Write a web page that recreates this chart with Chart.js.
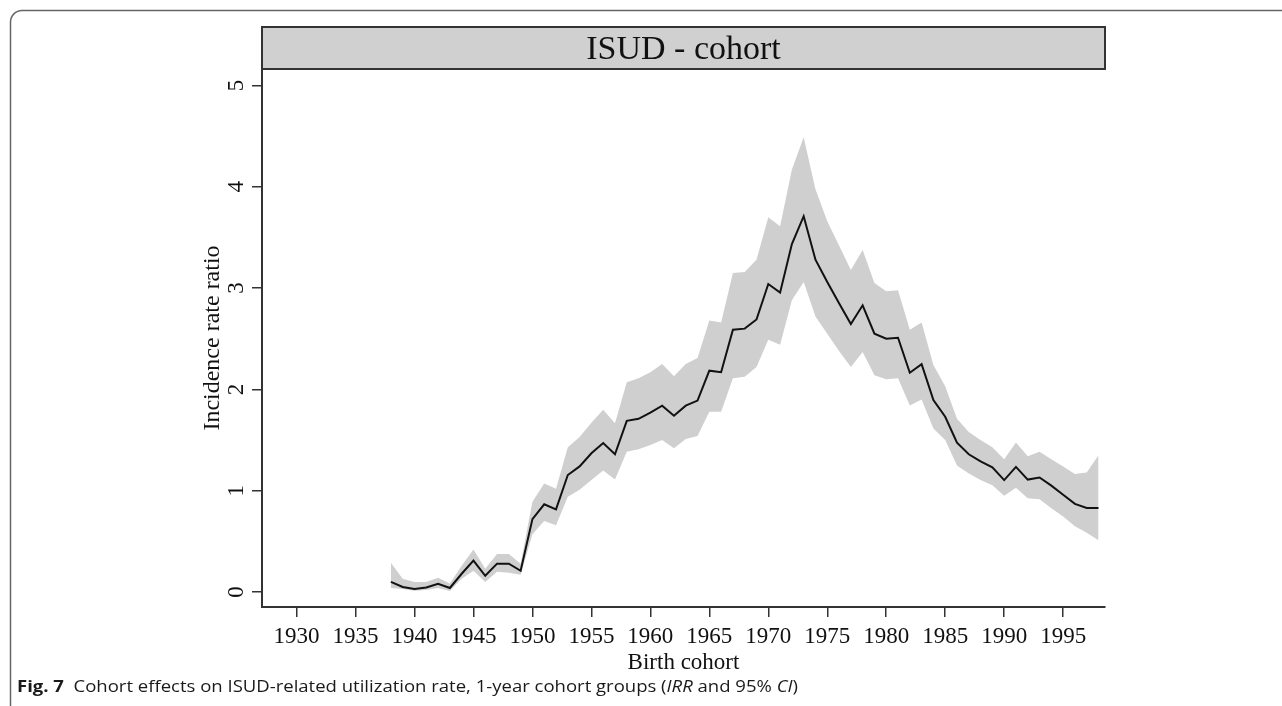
<!DOCTYPE html>
<html>
<head>
<meta charset="utf-8">
<script src="https://cdn.jsdelivr.net/npm/chart.js@4.4.1/dist/chart.umd.min.js"></script>
<style>
  html, body { margin: 0; padding: 0; background: #fff; }
  #wrap { position: relative; width: 1282px; height: 706px; overflow: hidden; }
  canvas { position: absolute; left: 0; top: 0; }
  #caption { position: absolute; left: 17px; top: 678px; font-family: "Open Sans", "Noto Sans", sans-serif; font-size: 16px; line-height: 16px; color: #1a1a1a; white-space: nowrap; transform-origin: 0 0; }
  #caption b { font-weight: 700; }
</style>
</head>
<body>
<div id="wrap">
  <canvas id="c" width="1282" height="706"></canvas>
  <div id="caption"><b>Fig. 7</b>&nbsp; Cohort effects on ISUD-related utilization rate, 1-year cohort groups (<i>IRR</i> and 95% <i>CI</i>)</div>
</div>
<script>
// ---- data ----
const years = [1938,1939,1940,1941,1942,1943,1944,1945,1946,1947,1948,1949,1950,1951,1952,1953,1954,1955,1956,1957,1958,1959,1960,1961,1962,1963,1964,1965,1966,1967,1968,1969,1970,1971,1972,1973,1974,1975,1976,1977,1978,1979,1980,1981,1982,1983,1984,1985,1986,1987,1988,1989,1990,1991,1992,1993,1994,1995,1996,1997,1998];
const irr = [0.10,0.05,0.03,0.045,0.08,0.04,0.18,0.31,0.16,0.28,0.28,0.21,0.72,0.866,0.816,1.155,1.24,1.37,1.47,1.36,1.69,1.71,1.77,1.84,1.74,1.84,1.89,2.185,2.17,2.59,2.60,2.69,3.04,2.955,3.435,3.71,3.28,3.06,2.85,2.645,2.83,2.55,2.50,2.51,2.165,2.25,1.895,1.73,1.475,1.36,1.29,1.23,1.105,1.235,1.11,1.13,1.05,0.96,0.87,0.83,0.83];
const ciUpper = [0.29,0.13,0.10,0.10,0.14,0.085,0.26,0.42,0.23,0.375,0.375,0.28,0.89,1.07,1.02,1.43,1.53,1.67,1.80,1.665,2.07,2.11,2.17,2.25,2.13,2.25,2.31,2.68,2.66,3.15,3.16,3.28,3.70,3.61,4.17,4.49,3.975,3.66,3.42,3.18,3.375,3.05,2.97,2.98,2.59,2.66,2.24,2.03,1.71,1.58,1.50,1.43,1.31,1.475,1.34,1.385,1.31,1.24,1.165,1.18,1.35];
const ciLower = [0.04,0.03,0.013,0.02,0.04,0.01,0.13,0.21,0.10,0.20,0.19,0.17,0.57,0.70,0.66,0.94,1.01,1.105,1.20,1.11,1.385,1.41,1.45,1.50,1.42,1.51,1.54,1.78,1.78,2.11,2.125,2.22,2.49,2.44,2.88,3.06,2.72,2.55,2.38,2.22,2.37,2.14,2.10,2.11,1.84,1.90,1.615,1.50,1.25,1.17,1.105,1.055,0.95,1.03,0.925,0.915,0.826,0.745,0.65,0.585,0.51];
const xTicks = [1930,1935,1940,1945,1950,1955,1960,1965,1970,1975,1980,1985,1990,1995];
const yTicks = [0,1,2,3,4,5];
const panelTitle = "ISUD - cohort";
const xTitle = "Birth cohort";
const yTitle = "Incidence rate ratio";

const toPts = arr => years.map((y, i) => ({x: y, y: arr[i]}));
const SERIF = '"Liberation Serif", "Times New Roman", serif';
const AXIS = '#333333';

const decor = {
  id: 'decor',
  beforeDraw(chart) {
    const ctx = chart.ctx;
    ctx.save();
    ctx.fillStyle = '#ffffff';
    ctx.fillRect(0, 0, chart.width, chart.height);
    // outer rounded frame (extends beyond right/bottom edges)
    ctx.strokeStyle = '#666666';
    ctx.lineWidth = 1.5;
    ctx.beginPath();
    ctx.moveTo(10.5, chart.height + 5);
    ctx.lineTo(10.5, 22);
    ctx.arcTo(10.5, 10.5, 22, 10.5, 11.5);
    ctx.lineTo(chart.width + 5, 10.5);
    ctx.stroke();
    ctx.restore();
  },
  afterDraw(chart) {
    const ctx = chart.ctx;
    const a = chart.chartArea;
    const ys = chart.scales.y;
    ctx.save();
    // header strip
    ctx.fillStyle = '#d0d0d0';
    ctx.fillRect(a.left, 27, a.right - a.left, a.top - 27);
    ctx.strokeStyle = AXIS;
    ctx.lineWidth = 2;
    ctx.strokeRect(a.left, 27, a.right - a.left, a.top - 27);
    ctx.fillStyle = '#111111';
    ctx.font = '34px ' + SERIF;
    ctx.textAlign = 'center';
    ctx.textBaseline = 'alphabetic';
    ctx.fillText(panelTitle, (a.left + a.right) / 2, 59);
    // rotated y tick labels
    ctx.font = '23px ' + SERIF;
    ys.ticks.forEach(t => {
      const py = ys.getPixelForValue(t.value);
      ctx.save();
      ctx.translate(243, py);
      ctx.rotate(-Math.PI / 2);
      ctx.textAlign = 'center';
      ctx.fillText(String(t.value), 0, 0);
      ctx.restore();
    });
    // y title
    ctx.font = '24px ' + SERIF;
    ctx.save();
    ctx.translate(219, (a.top + a.bottom) / 2);
    ctx.rotate(-Math.PI / 2);
    ctx.textAlign = 'center';
    ctx.fillText(yTitle, 0, 0);
    ctx.restore();
    // x title
    ctx.font = '23px ' + SERIF;
    ctx.textAlign = 'center';
    ctx.fillText(xTitle, (a.left + a.right) / 2, 669);
    ctx.restore();
  }
};

new Chart(document.getElementById('c'), {
  type: 'line',
  data: {
    datasets: [
      { label: 'IRR', data: toPts(irr), borderColor: '#111111', borderWidth: 2, pointRadius: 0, fill: false, tension: 0 },
      { label: 'Upper 95% CI', data: toPts(ciUpper), borderWidth: 0, borderColor: 'rgba(0,0,0,0)', backgroundColor: '#cfcfcf', pointRadius: 0, fill: '+1', tension: 0 },
      { label: 'Lower 95% CI', data: toPts(ciLower), borderWidth: 0, borderColor: 'rgba(0,0,0,0)', backgroundColor: '#cfcfcf', pointRadius: 0, fill: false, tension: 0 }
    ]
  },
  options: {
    responsive: false,
    animation: false,
    devicePixelRatio: 1,
    layout: { padding: { top: 69, right: 177, bottom: 0, left: 0 } },
    plugins: { legend: { display: false }, tooltip: { enabled: false } },
    scales: {
      x: {
        type: 'linear',
        min: 1927.07,
        max: 1998.55,
        afterBuildTicks: s => { s.ticks = xTicks.map(v => ({ value: v })); },
        afterFit: s => { s.height = 99; },
        ticks: { autoSkip: false, maxRotation: 0, minRotation: 0, padding: 6, color: '#111111', font: { family: SERIF, size: 23 }, callback: v => String(v) },
        grid: { display: true, drawOnChartArea: false, drawTicks: true, tickLength: 10, color: AXIS, lineWidth: 1.5 },
        border: { display: true, color: AXIS, width: 2 }
      },
      y: {
        type: 'linear',
        min: -0.148,
        max: 5.163,
        afterBuildTicks: s => { s.ticks = yTicks.map(v => ({ value: v })); },
        afterFit: s => { s.width = 262; },
        ticks: { display: false },
        grid: { display: true, drawOnChartArea: false, drawTicks: true, tickLength: 10, color: AXIS, lineWidth: 1.5 },
        border: { display: true, color: AXIS, width: 2 }
      }
    }
  },
  plugins: [decor]
});

// fit caption width to reference span
const cap = document.getElementById('caption');
const w = cap.getBoundingClientRect().width;
cap.style.transform = 'scaleX(' + (781 / w) + ')';
</script>
</body>
</html>
